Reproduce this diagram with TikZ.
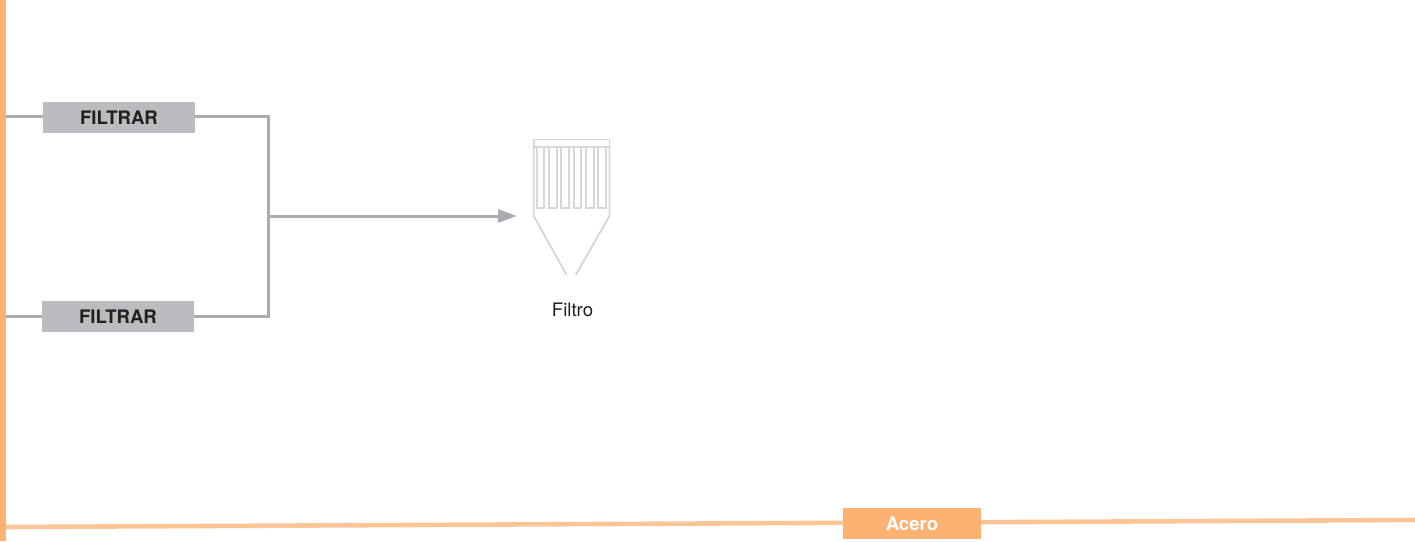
\documentclass[tikz,border=0pt]{standalone}
\usepackage{fontspec}
\setmainfont{TeX Gyre Heros}
\usetikzlibrary{arrows.meta}
\definecolor{barO}{HTML}{FDB172}
\definecolor{lineO}{HTML}{FDC596}
\definecolor{boxG}{HTML}{BBBCC0}
\definecolor{lineG}{HTML}{ABACB0}
\definecolor{iconG}{HTML}{D6D7D9}
\definecolor{txt}{HTML}{231F20}
\tikzset{
  x=1pt,y=-1pt,
  tagbox/.style={fill=boxG,draw=none,minimum width=152pt,minimum height=31pt,inner sep=0pt,text=txt,font=\fontsize{18.6}{20}\selectfont\bfseries},
  flow/.style={draw=lineG,line width=3pt},
  icon/.style={draw=iconG,line width=1.9pt,line join=miter},
  rail/.style={draw=lineO,line width=4.6pt},
}
\begin{document}
\begin{tikzpicture}
\useasboundingbox (0,0) rectangle (1415,541);
% left bar
\fill[barO] (0,0) rectangle (6,541);
% named points
\coordinate (l1) at (6,116);
\coordinate (l2) at (6,316);
\coordinate (j1) at (268,116);
\coordinate (j2) at (268,316);
\coordinate (jm) at (268,216);
\coordinate (tip) at (517,216);
\coordinate (rl) at (6,527);
\coordinate (rr) at (1415,520);
\coordinate (ra) at (843,522.8);
\coordinate (rb) at (981,522.2);
% nodes
\node[tagbox] (f1) at (119,117.3) {FILTRAR};
\node[tagbox] (f2) at (118,316.3) {FILTRAR};
\node[fill=barO,minimum width=138pt,minimum height=31pt,inner sep=0pt,text=white,font=\fontsize{18.6}{20}\selectfont\bfseries] (acero) at (912,523.5) {Acero};
\node[text=txt,font=\fontsize{18.6}{20}\selectfont,inner sep=0pt] (lbl) at (572.5,310) {Filtro};
% connectors
\draw[flow] (l1) -- (f1.west |- l1);
\draw[flow] (l2) -- (f2.west |- l2);
\draw[flow,line join=miter] (f1.east |- j1) -- (j1) -- (j2) -- (f2.east |- j2);
\draw[draw=lineG,line width=3pt,-{Triangle[length=19pt,width=13pt,fill=lineG]}] (jm) -- (tip);
\draw[rail] (rl) -- (ra);
\draw[rail] (rb) -- (rr);
% filter icon
\draw[icon] (533.7,139.5) rectangle (609.5,146.7);
\draw[icon] (533.7,146.7) -- (533.7,216) -- (566.7,275);
\draw[icon] (609.5,146.7) -- (609.5,216) -- (575.7,275);
\foreach \i in {0,1,2,3,4,5}{
  \draw[icon] ({536.7+12.33*\i},146.7) -- ({536.7+12.33*\i},208) -- ({544.4+12.33*\i},208) -- ({544.4+12.33*\i},146.7);
}
\end{tikzpicture}
\end{document}
